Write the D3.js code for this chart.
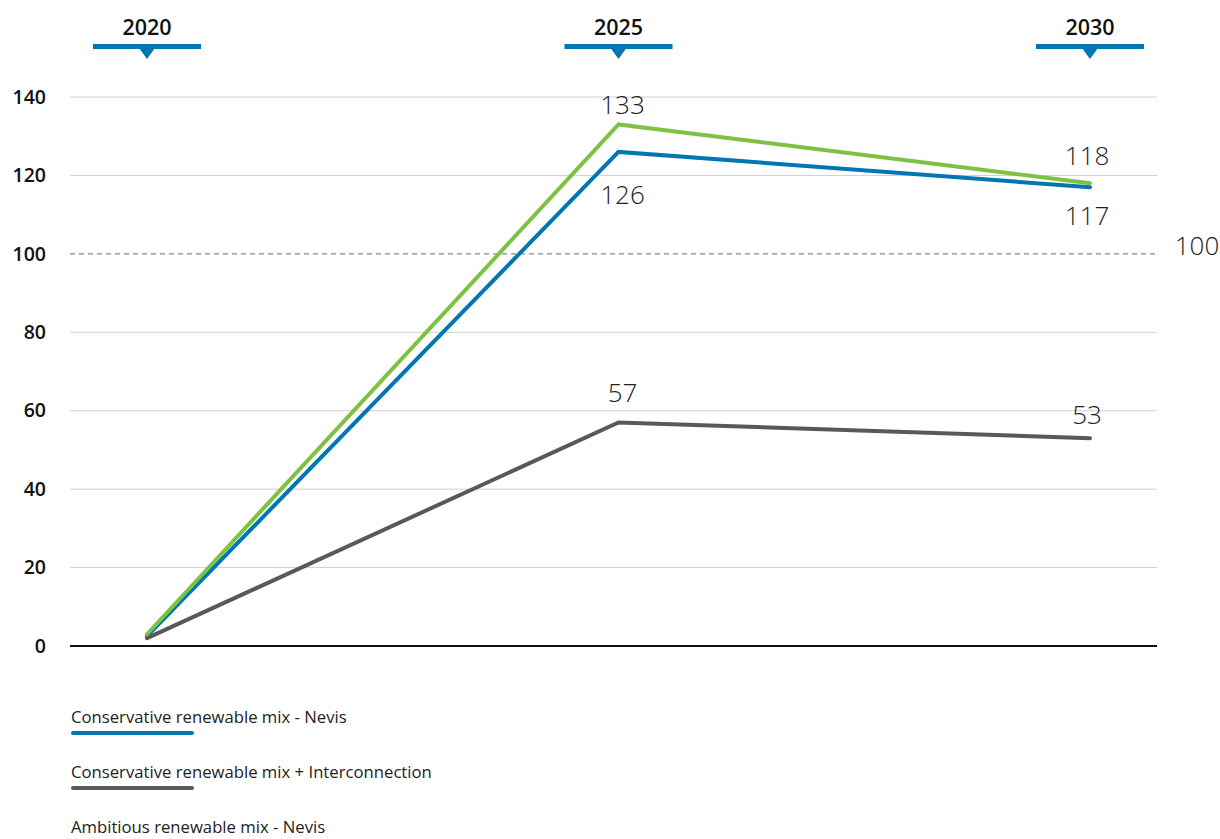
<!DOCTYPE html>
<html><head><meta charset="utf-8">
<script src="https://cdn.jsdelivr.net/npm/d3@7"></script>
<style>
body{margin:0;background:#fff;}
svg{display:block;font-family:"Open Sans","Lato",sans-serif;}
</style></head><body>
<svg id="c" width="1220" height="839"></svg>
<script>
const years = ["2020","2025","2030"];
const seriesNames = ["Conservative renewable mix - Nevis","Conservative renewable mix + Interconnection","Ambitious renewable mix - Nevis"];
const blueValues = [2.5,126,117];
const greyValues = [2,57,53];
const greenValues = [3,133,118];
const yTicks = [0,20,40,60,80,100,120,140];
const refValue = 100;
const colors = ["#0077b3","#595959","#7dc242"];

const svg = d3.select("#c");
const x = d3.scalePoint().domain(years).range([147,1090]);
const y = d3.scaleLinear().domain([0,140]).range([646,97]);

// gridlines
svg.append("g").selectAll("line").data(yTicks.filter(t=>t!==0 && t!==refValue)).join("line")
  .attr("x1",70).attr("x2",1157).attr("y1",d=>y(d)).attr("y2",d=>y(d))
  .attr("stroke","#d0d0d0").attr("stroke-width",1);
// dashed 100
svg.append("line").attr("x1",70).attr("x2",1157).attr("y1",y(refValue)).attr("y2",y(refValue))
  .attr("stroke","#8a8a8a").attr("stroke-width",1.2).attr("stroke-dasharray","5,4");
svg.append("text").attr("x",1197).attr("y",y(refValue)+1).attr("text-anchor","middle")
  .attr("font-size",26).attr("font-weight",300).attr("fill","#222").text(refValue);
// baseline
svg.append("line").attr("x1",70).attr("x2",1157).attr("y1",y(0)).attr("y2",y(0))
  .attr("stroke","#111").attr("stroke-width",2);

// y axis labels
const yAxis = d3.axisLeft(y).tickValues(yTicks).tickSize(0).tickPadding(0);
const ga = svg.append("g").attr("transform","translate(46,0)").call(yAxis);
ga.select(".domain").remove();
ga.selectAll("text").attr("font-size",19.5).attr("font-weight",600).attr("fill","#111")
  .attr("font-family","'Open Sans',sans-serif");

// year header markers
const hdr = svg.append("g").selectAll("g").data(years).join("g")
  .attr("transform",d=>`translate(${x(d)},0)`);
hdr.append("text").attr("y",35).attr("text-anchor","middle").attr("font-size",21.5)
  .attr("font-weight",600).attr("fill","#111").text(d=>d);
hdr.append("rect").attr("x",-54).attr("y",44).attr("width",108).attr("height",5).attr("fill",colors[0]);
hdr.append("path").attr("d","M-8,48 L8,48 L0,59 Z").attr("fill",colors[0]);

// lines
const all = [blueValues, greyValues, greenValues];
const line = d3.line().x((d,i)=>x(years[i])).y(d=>y(d));
svg.append("g").selectAll("path").data(all).join("path")
  .attr("d",d=>line(d)).attr("fill","none")
  .attr("stroke",(d,i)=>colors[i]).attr("stroke-width",4)
  .attr("stroke-linejoin","miter").attr("stroke-linecap","round");

// data labels
const lbl = svg.append("g").attr("font-size",26).attr("font-weight",300).attr("fill","#222").attr("text-anchor","middle");
const offs = {green:[-10,-18], blue:[52,38], grey:[-20,-14]};
[1,2].forEach(i=>{
  const xi = x(years[i]) + (i===1?4:-3);
  const k = i-1;
  lbl.append("text").attr("x",xi).attr("y",y(greenValues[i])+offs.green[k]).text(Math.round(greenValues[i]));
  lbl.append("text").attr("x",xi).attr("y",y(blueValues[i])+offs.blue[k]).text(Math.round(blueValues[i]));
  lbl.append("text").attr("x",xi).attr("y",y(greyValues[i])+offs.grey[k]).text(Math.round(greyValues[i]));
});

// legend
const lg = svg.append("g").selectAll("g").data(seriesNames).join("g")
  .attr("transform",(d,i)=>`translate(71,${723+i*55})`);
lg.append("text").attr("y",0).attr("font-size",16.7).attr("fill","#222").text(d=>d);
lg.append("line").attr("x1",2).attr("x2",121).attr("y1",10).attr("y2",10)
  .attr("stroke",(d,i)=>colors[i]).attr("stroke-width",4).attr("stroke-linecap","round");
</script>
</body></html>
